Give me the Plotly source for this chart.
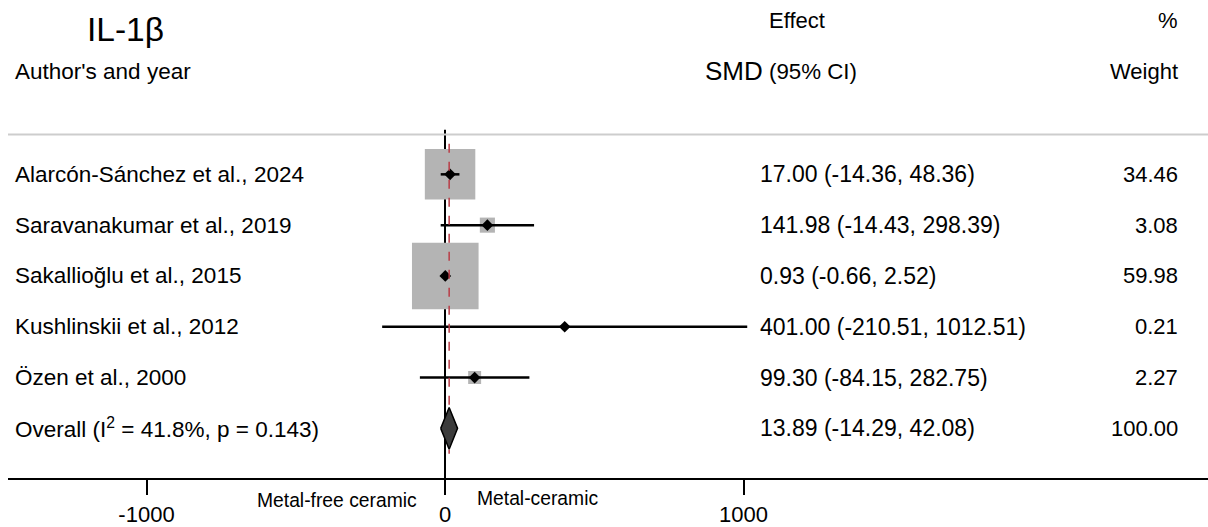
import plotly.graph_objects as go

# ---- data ----
studies = ["Alarcón-Sánchez et al., 2024", "Saravanakumar et al., 2019",
           "Sakallioğlu et al., 2015", "Kushlinskii et al., 2012", "Özen et al., 2000"]
smd = [17.00, 141.98, 0.93, 401.00, 99.30]
ci_low = [-14.36, -14.43, -0.66, -210.51, -84.15]
ci_high = [48.36, 298.39, 2.52, 1012.51, 282.75]
weights = [34.46, 3.08, 59.98, 0.21, 2.27]
overall_label = "Overall (I<sup>2</sup> = 41.8%, p = 0.143)"
overall_smd = 13.89
overall_low = -14.29
overall_high = 42.08
overall_weight = 100.00
tick_vals = [-1000, 0, 1000]
tick_text = ["-1000", "0", "1000"]

FONT = "Liberation Sans, Arial, sans-serif"
W, H = 1208, 527
n = len(studies)
rows = list(range(n))
overall_row = n

fig = go.Figure()

# weight squares
fig.add_trace(go.Scatter(
    x=smd, y=rows, mode="markers",
    marker=dict(symbol="square", size=[8.6 * w ** 0.5 for w in weights],
                color="rgb(180,180,180)", opacity=1, line=dict(width=0)),
    hoverinfo="skip", showlegend=False))

# confidence interval lines
cx, cy = [], []
for lo, hi, r in zip(ci_low, ci_high, rows):
    cx += [lo, hi, None]
    cy += [r, r, None]
fig.add_trace(go.Scatter(x=cx, y=cy, mode="lines",
                         line=dict(color="black", width=2.5),
                         hoverinfo="skip", showlegend=False))

# point estimates
fig.add_trace(go.Scatter(
    x=smd, y=rows, mode="markers",
    marker=dict(symbol="diamond", size=9, color="black"),
    hoverinfo="skip", showlegend=False))

# overall dashed line
fig.add_trace(go.Scatter(x=[overall_smd, overall_smd], y=[-0.6, overall_row + 0.5],
                         mode="lines",
                         line=dict(color="rgb(185,60,70)", width=1.5, dash="dash"),
                         hoverinfo="skip", showlegend=False))

# overall diamond
hd = 0.41
fig.add_trace(go.Scatter(
    x=[overall_low, overall_smd, overall_high, overall_smd, overall_low],
    y=[overall_row, overall_row - hd, overall_row, overall_row + hd, overall_row],
    mode="lines", fill="toself", fillcolor="rgb(60,60,60)",
    line=dict(color="black", width=1.5),
    hoverinfo="skip", showlegend=False))

# null line at 0
fig.add_shape(type="line", xref="x", yref="y", x0=0, x1=0, y0=-0.88, y1=5.98,
              line=dict(color="black", width=2), layer="below")

# top separator
fig.add_shape(type="line", xref="paper", yref="paper", x0=0, x1=1,
              y0=1 - 135 / H, y1=1 - 135 / H,
              line=dict(color="rgb(205,205,205)", width=2))

ann = []
def txt(x, y, s, size=22, xanchor="left", xref="paper", yref="paper"):
    ann.append(dict(x=x, y=y, xref=xref, yref=yref, text=s, showarrow=False,
                    xanchor=xanchor, yanchor="middle",
                    font=dict(family=FONT, size=size, color="black")))

def px(xpix):
    return (xpix - 8) / (W - 8)

def py(ypix):
    return 1 - ypix / H

# headers
txt(px(125), py(30), "IL-1β", size=33.5, xanchor="center")
txt(px(13), py(72), "Author's and year", size=22.5)
txt(px(767), py(21), "Effect", size=22)
txt(px(765), py(71), "SMD", size=26, xanchor="right")
txt(px(767), py(72), "(95% CI)", size=22.3)
txt(px(1180), py(21), "%", size=22, xanchor="right")
txt(px(1180), py(72), "Weight", size=22, xanchor="right")

# rows
for s, e, lo, hi, w, r in zip(studies, smd, ci_low, ci_high, weights, rows):
    txt(px(13), r, s, size=22.5, yref="y")
    txt(px(758), r, f"{e:.2f} ({lo:.2f}, {hi:.2f})", size=23, yref="y")
    txt(px(1180), r, f"{w:.2f}", size=22, xanchor="right", yref="y")

txt(px(13), overall_row, overall_label, size=22.5, yref="y")
txt(px(758), overall_row, f"{overall_smd:.2f} ({overall_low:.2f}, {overall_high:.2f})",
    size=23, yref="y")
txt(px(1180), overall_row, f"{overall_weight:.2f}", size=22, xanchor="right", yref="y")

# direction labels
txt(px(419), py(502), "Metal-free ceramic", size=19.3, xanchor="right")
txt(px(475), py(500), "Metal-ceramic", size=19.3)

fig.update_layout(annotations=ann)

scale = 0.2985  # px per unit
x0 = (8 - 445) / scale
x1 = (W - 445) / scale
row_px = 51.0
y_top = (0 - 175) / row_px
y_bot = (480 - 175) / row_px

fig.update_layout(
    width=W, height=H,
    margin=dict(l=8, r=0, t=0, b=0),
    paper_bgcolor="white", plot_bgcolor="white",
    showlegend=False,
    font=dict(family=FONT, color="black"),
    xaxis=dict(range=[x0, x1], tickvals=tick_vals, ticktext=tick_text,
               showgrid=False, zeroline=False, showline=True,
               linecolor="black", linewidth=2,
               ticks="outside", ticklen=15, tickwidth=2, tickcolor="black",
               tickfont=dict(family=FONT, size=22, color="black"),
               fixedrange=True),
    yaxis=dict(range=[y_bot, y_top], domain=[(H - 480) / H, 1],
               showgrid=False, zeroline=False, showline=False,
               showticklabels=False, ticks="", fixedrange=True),
)

fig.write_html("out.html", post_script="document.body.style.margin='0';",
               config={"displayModeBar": False})
